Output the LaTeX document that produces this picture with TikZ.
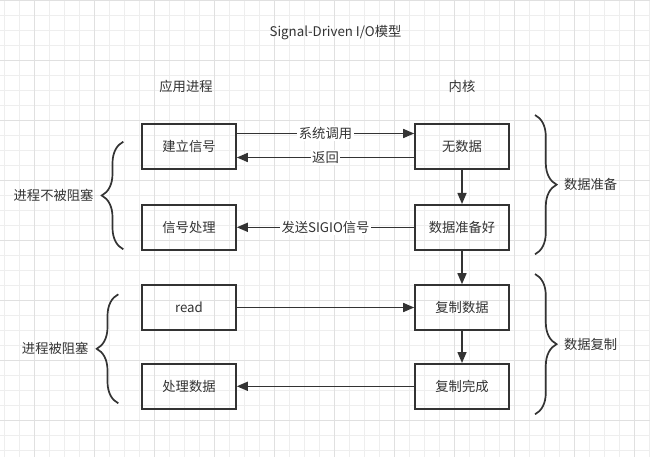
\documentclass[tikz,border=0pt]{standalone}
\usepackage{fontspec}
\setmainfont{Noto Sans CJK SC}
\usetikzlibrary{arrows.meta, positioning, decorations.pathreplacing}
\definecolor{ink}{HTML}{333333}
\definecolor{gridminor}{HTML}{EEEEEE}
\definecolor{gridmajor}{HTML}{E0E0E0}

\begin{document}
\begin{tikzpicture}[x=1pt, y=-1pt,
  every node/.style={font=\fontsize{13.3}{16}\selectfont, text=ink},
  box/.style={draw=ink, line width=1.6pt, minimum width=94pt, minimum height=45pt, inner sep=0pt},
  arr/.style={draw=ink, line width=1.5pt, -{Triangle[length=11pt,width=9pt]}},
  lbl/.style={fill=white, inner sep=1.5pt},
  curly/.style={draw=ink, line width=1.7pt, decorate, decoration={brace, amplitude=21.6pt}}]
 \useasboundingbox (0,0) rectangle (650,457);
 \fill [white] (0,0) rectangle (650,457);
 % background grid
 \foreach \k in {0,...,43} \draw [gridminor, line width=0.8pt] (4.3+15*\k,0) -- (4.3+15*\k,457);
 \foreach \k in {0,...,30} \draw [gridminor, line width=0.8pt] (0,15*\k) -- (650,15*\k);
 \foreach \k in {0,...,10} \draw [gridmajor, line width=0.8pt] (34.3+60*\k,0) -- (34.3+60*\k,457);
 \foreach \k in {0,...,7} \draw [gridmajor, line width=0.8pt] (0,60*\k) -- (650,60*\k);

 \node (title) at (335.5,32.5) {Signal-Driven I/O模型};
 \node (app) at (186,86) {应用进程};
 \node (kernel) at (462,86) {内核};

 % process side
 \node (setup) [box] at (189,146.5) {建立信号};
 \node (handler) [box] at (189,227.3) {信号处理};
 \node (read) [box] at (189,307.5) {read};
 \node (process) [box] at (189,386.3) {处理数据};
 % kernel side
 \node (nodata) [box] at (462,146.5) {无数据};
 \node (ready) [box] at (462,227.3) {数据准备好};
 \node (copy) [box] at (462,307.5) {复制数据};
 \node (copied) [box] at (462,386.3) {复制完成};

 \draw [arr] ([yshift=13pt]setup.east) -- node [lbl] {系统调用} ([yshift=13pt]nodata.west);
 \draw [arr] ([yshift=-11pt]nodata.west) -- node [lbl] {返回} ([yshift=-11pt]setup.east);
 \draw [arr] (ready.west) -- node [lbl] {发送SIGIO信号} (handler.east);
 \draw [arr] (read.east) -- (copy.west);
 \draw [arr] (copied.west) -- (process.east);
 \draw [arr] (nodata.south) -- (ready.north);
 \draw [arr] (ready.south) -- (copy.north);
 \draw [arr] (copy.south) -- (copied.north);

 % braces
 \draw [curly] (123.3,249.3) -- (123.3,141.7);
 \node (free) [anchor=east] at (97,195.5) {进程不被阻塞};
 \draw [curly] (118.3,403.3) -- (118.3,294.3);
 \node (blocked) [anchor=east] at (92,348.8) {进程被阻塞};
 \draw [curly] (535,115) -- (535,254.3);
 \node (prep) [anchor=west] at (560.5,184.6) {数据准备};
 \draw [curly] (535,274) -- (535,414.3);
 \node (copying) [anchor=west] at (560.5,344.2) {数据复制};
\end{tikzpicture}
\end{document}
